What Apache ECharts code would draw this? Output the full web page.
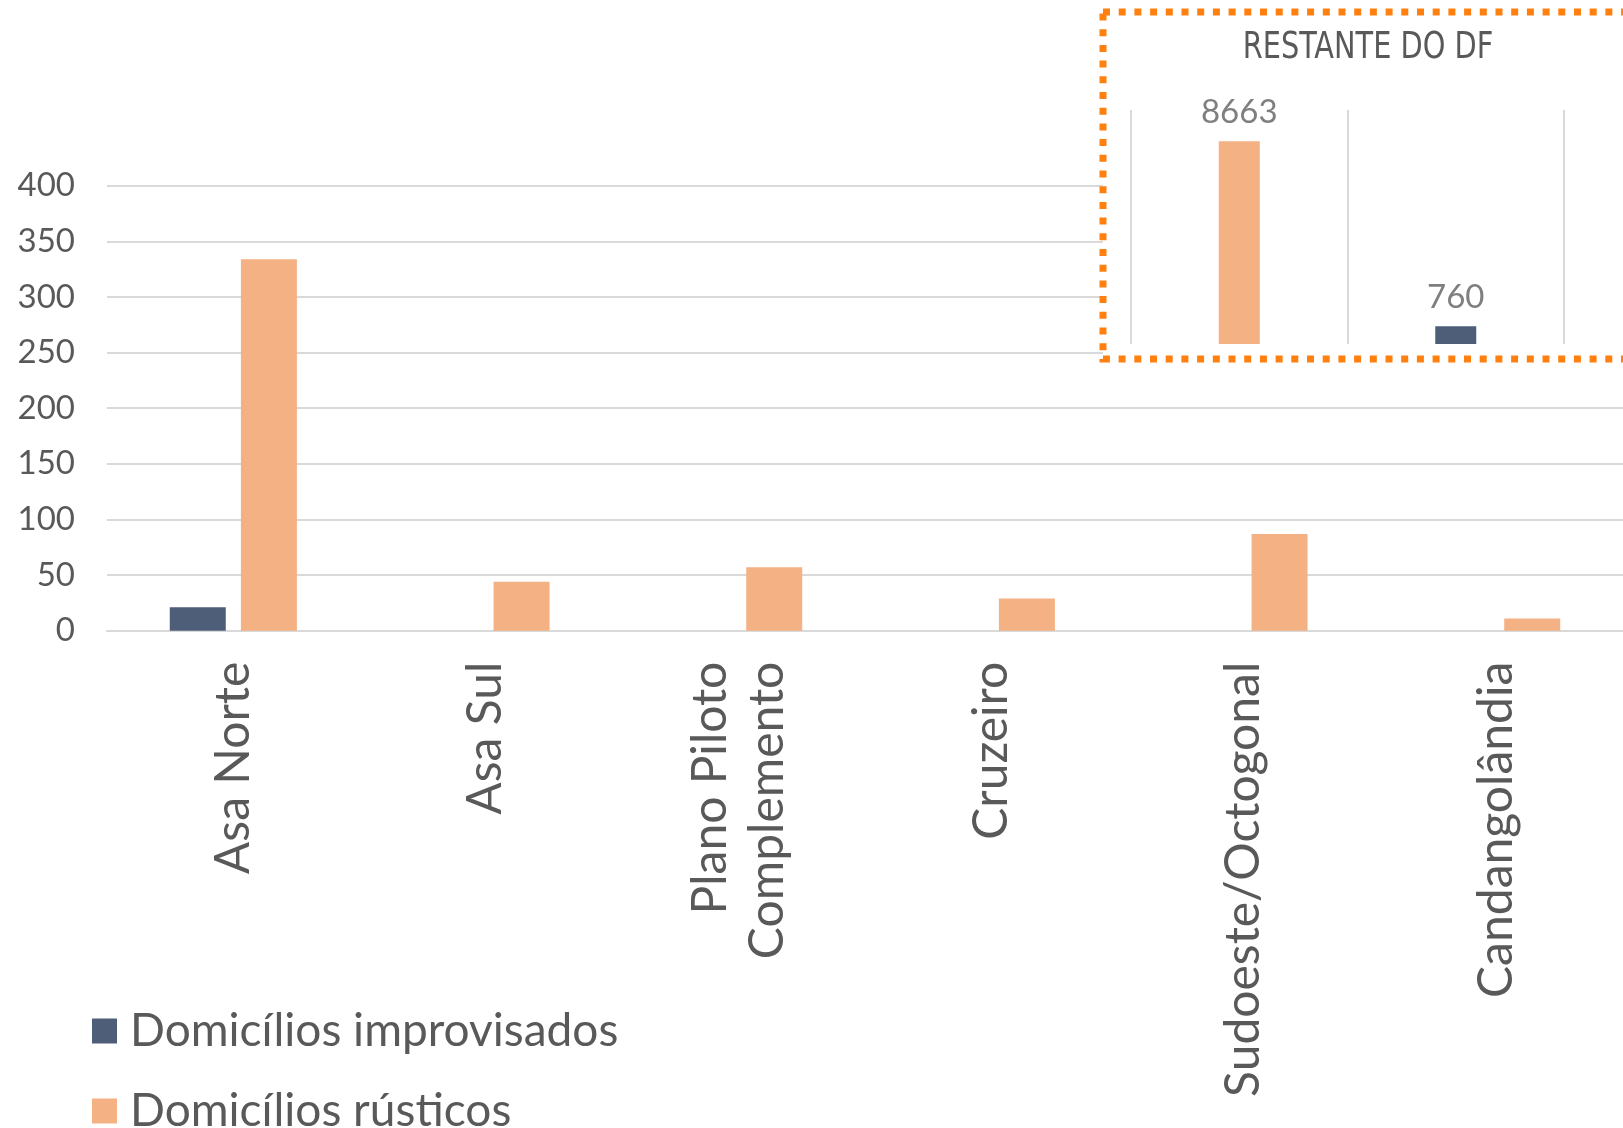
<!DOCTYPE html>
<html>
<head>
<meta charset="utf-8">
<script src="https://cdn.jsdelivr.net/npm/echarts@6/dist/echarts.min.js"></script>
<style>
    html, body { margin: 0; padding: 0; background: #fff; }
    #chart { width: 1623px; height: 1128px; }
</style>
</head>
<body>
<div id="chart"></div>
<script>
// regioes do Plano Piloto e entorno
var categories = ['Asa Norte', 'Asa Sul', 'Plano Piloto\nComplemento', 'Cruzeiro', 'Sudoeste/Octogonal', 'Candangolândia'];
var improvisados = [21, 0, 0, 0, 0, 0];
var rusticos = [334, 44, 57, 29, 87, 11];

// quadro "restante do DF"
var restanteCategories = ['Domicílios rústicos', 'Domicílios improvisados'];
var restanteRusticos = [8663, null];
var restanteImprovisados = [null, 760];

var NAVY = '#4e5e79';
var ORANGE = '#f4b183';
var GRID = '#d9d9d9';
var TEXT = '#595959';
var FONT = 'Lato, "Open Sans", sans-serif';

function legendItem(name, top) {
    return {
        orient: 'vertical',
        left: 92,
        top: top,
        padding: 0,
        itemWidth: 25,
        itemHeight: 25,
        icon: 'rect',
        data: [name],
        textStyle: { fontSize: 46, color: TEXT, fontFamily: FONT, padding: [0, 0, 0, 8] }
    };
}

var chart = echarts.init(document.getElementById('chart'));
chart.setOption({
    backgroundColor: '#fff',
    animation: false,
    textStyle: { fontFamily: FONT },
    legend: [
        legendItem('Domicílios improvisados', 1008),
        legendItem('Domicílios rústicos', 1088)
    ],
    graphic: [{
        type: 'rect',
        z: 1,
        shape: { x: 1103, y: 12, width: 560, height: 347 },
        style: {
            fill: '#fff',
            stroke: '#ff800f',
            lineWidth: 7,
            lineDash: [7, 8.7]
        }
    }, {
        type: 'text',
        z: 6,
        x: 1368,
        y: 48,
        scaleY: 1.18,
        style: {
            text: 'RESTANTE DO DF',
            fontFamily: '"DejaVu Sans Condensed", "DejaVu Sans", sans-serif',
            fontSize: 32,
            fill: TEXT,
            align: 'center',
            verticalAlign: 'middle'
        }
    }],
    grid: [
        { left: 107, right: 0, top: 185.7, bottom: 497.3 },
        { left: 1131, width: 433, top: 110, height: 234 }
    ],
    xAxis: [{
        type: 'category',
        gridIndex: 0,
        data: categories,
        axisLine: { lineStyle: { color: GRID, width: 2 } },
        axisTick: { show: false },
        axisLabel: {
            rotate: 90,
            margin: 31,
            fontSize: 48,
            lineHeight: 57,
            color: TEXT,
            interval: 0
        }
    }, {
        type: 'category',
        gridIndex: 1,
        z: 3,
        data: restanteCategories,
        axisLine: { show: false },
        axisTick: { show: false },
        axisLabel: { show: false },
        splitLine: { show: true, lineStyle: { color: GRID, width: 2 } }
    }],
    yAxis: [{
        type: 'value',
        gridIndex: 0,
        min: 0,
        max: 400,
        interval: 50,
        axisLine: { show: false },
        axisTick: { show: false },
        axisLabel: { fontSize: 33, color: TEXT, margin: 32 },
        splitLine: { lineStyle: { color: GRID, width: 2 } }
    }, {
        type: 'value',
        gridIndex: 1,
        min: 0,
        max: 10000,
        show: false,
        splitLine: { show: false }
    }],
    series: [
        {
            name: 'Domicílios improvisados',
            type: 'bar',
            data: improvisados,
            barWidth: 56,
            barGap: '27%',
            itemStyle: { color: NAVY }
        },
        {
            name: 'Domicílios rústicos',
            type: 'bar',
            data: rusticos,
            barWidth: 56,
            barGap: '27%',
            itemStyle: { color: ORANGE }
        },
        {
            name: 'Domicílios rústicos',
            type: 'bar',
            xAxisIndex: 1,
            yAxisIndex: 1,
            stack: 'restante',
            z: 4,
            barWidth: 41,
            data: restanteRusticos,
            itemStyle: { color: ORANGE },
            label: { show: true, position: 'top', distance: 12, fontSize: 33, color: '#7f7f7f' }
        },
        {
            name: 'Domicílios improvisados',
            type: 'bar',
            xAxisIndex: 1,
            yAxisIndex: 1,
            stack: 'restante',
            z: 4,
            barWidth: 41,
            data: restanteImprovisados,
            itemStyle: { color: NAVY },
            label: { show: true, position: 'top', distance: 12, fontSize: 33, color: '#7f7f7f' }
        }
    ]
});
</script>
</body>
</html>
